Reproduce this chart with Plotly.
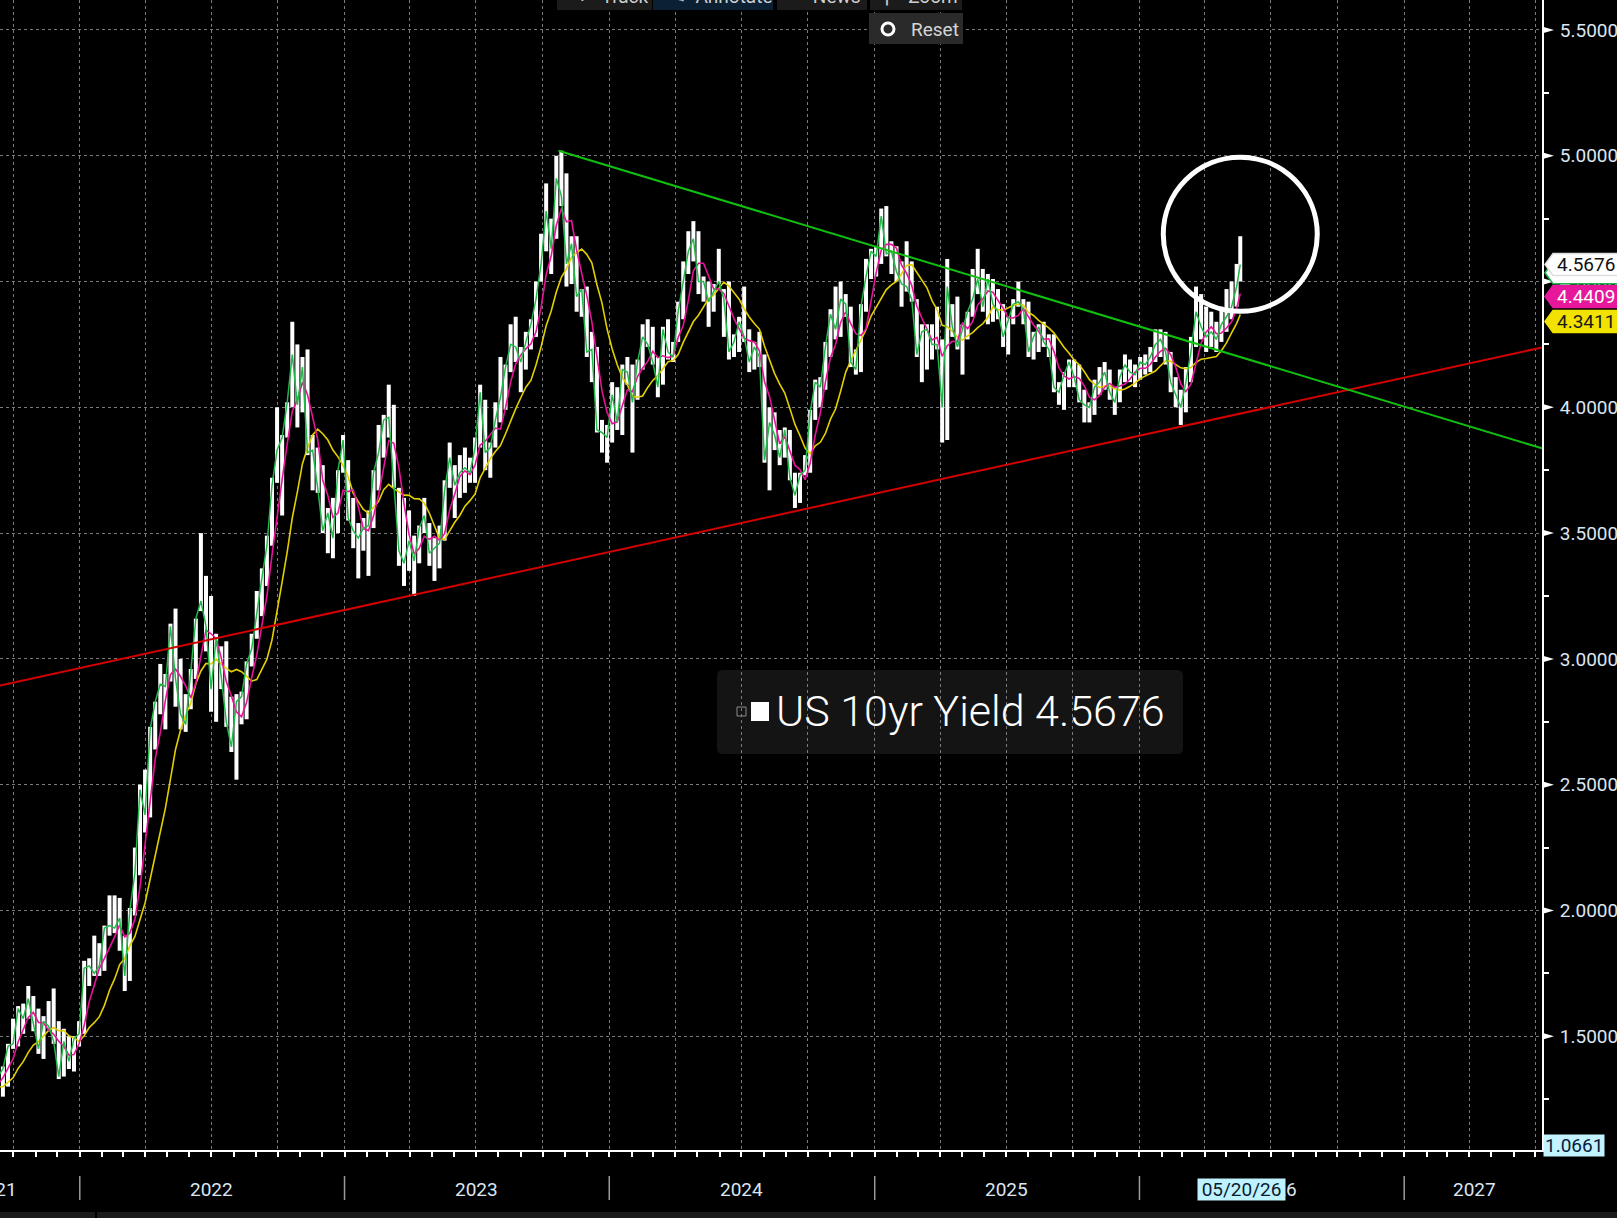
import pandas as pd
import plotly.graph_objects as go

# ---------------- DATA (weekly readings, Friday; last point = 20 May 2026) ----------------
close_2021 = [1.43, 1.36, 1.30, 1.28, 1.24, 1.30, 1.28, 1.26, 1.31, 1.32, 1.34, 1.37, 1.46,
              1.47, 1.61, 1.57, 1.65, 1.55, 1.45, 1.56, 1.54, 1.48, 1.34, 1.48, 1.40, 1.49, 1.51]
high_2021 = [1.49, 1.44, 1.38, 1.31, 1.30, 1.32, 1.37, 1.30, 1.36, 1.35, 1.38, 1.38, 1.47,
             1.57, 1.62, 1.63, 1.70, 1.66, 1.61, 1.58, 1.64, 1.69, 1.56, 1.53, 1.50, 1.50, 1.56]
low_2021 = [1.42, 1.25, 1.28, 1.13, 1.22, 1.13, 1.28, 1.22, 1.25, 1.27, 1.29, 1.26, 1.30,
            1.45, 1.46, 1.51, 1.57, 1.52, 1.43, 1.41, 1.53, 1.47, 1.33, 1.34, 1.37, 1.36, 1.46]

close_2022 = [1.77, 1.78, 1.75, 1.78, 1.93, 1.94, 1.93, 1.97, 1.74, 2.00, 2.15, 2.48,
              2.38, 2.72, 2.83, 2.90, 2.89, 3.13, 2.92, 2.78, 2.74, 2.94, 3.16, 3.23, 3.13,
              2.88, 3.08, 2.93, 2.75, 2.65, 2.83, 2.85, 2.98, 3.04, 3.19, 3.32, 3.45, 3.69, 3.83,
              3.88, 4.02, 4.21, 4.01, 4.16, 3.82, 3.83, 3.68, 3.51, 3.58, 3.48, 3.75, 3.87]
high_2022 = [1.80, 1.81, 1.90, 1.87, 1.94, 2.06, 2.06, 2.05, 1.90, 2.01, 2.25, 2.50,
             2.56, 2.73, 2.83, 2.98, 2.94, 3.14, 3.20, 3.00, 2.86, 2.96, 3.16, 3.50, 3.33,
             3.25, 3.10, 3.05, 3.07, 2.85, 2.86, 2.87, 2.99, 3.10, 3.27, 3.36, 3.49, 3.72, 4.00,
             3.89, 4.02, 4.34, 4.25, 4.20, 4.23, 3.89, 3.84, 3.77, 3.60, 3.64, 3.75, 3.89]
low_2022 = [1.51, 1.70, 1.74, 1.74, 1.76, 1.90, 1.91, 1.84, 1.68, 1.72, 1.98, 2.14,
            2.31, 2.37, 2.64, 2.78, 2.72, 2.91, 2.81, 2.72, 2.71, 2.80, 2.92, 3.19, 3.03,
            2.79, 2.75, 2.88, 2.73, 2.63, 2.52, 2.74, 2.76, 2.97, 3.08, 3.17, 3.29, 3.45, 3.70,
            3.57, 3.88, 4.00, 3.92, 3.98, 3.81, 3.67, 3.66, 3.50, 3.42, 3.40, 3.50, 3.74]

close_2023 = [3.56, 3.51, 3.48, 3.52, 3.53, 3.74, 3.82, 3.95, 3.96, 3.70, 3.43, 3.38, 3.47,
              3.39, 3.52, 3.57, 3.42, 3.44, 3.46, 3.67, 3.80, 3.69, 3.74, 3.76, 3.74, 3.84,
              4.06, 3.82, 3.84, 3.95, 4.04, 4.16, 4.25, 4.24, 4.18, 4.26, 4.33, 4.43, 4.57,
              4.78, 4.63, 4.91, 4.84, 4.57, 4.65, 4.44, 4.47, 4.22, 4.23, 3.91, 3.90, 3.88]
high_2023 = [3.79, 3.64, 3.54, 3.56, 3.59, 3.75, 3.93, 3.97, 4.09, 4.01, 3.68, 3.64, 3.59,
             3.49, 3.53, 3.64, 3.54, 3.48, 3.53, 3.71, 3.86, 3.77, 3.81, 3.84, 3.80, 3.88,
             4.09, 4.03, 3.86, 4.02, 4.20, 4.17, 4.33, 4.36, 4.24, 4.30, 4.35, 4.50, 4.69,
             4.89, 4.75, 5.00, 5.02, 4.93, 4.68, 4.68, 4.47, 4.48, 4.30, 4.24, 3.95, 3.93]
low_2023 = [3.55, 3.44, 3.32, 3.43, 3.33, 3.52, 3.67, 3.80, 3.88, 3.68, 3.37, 3.29, 3.35,
            3.25, 3.38, 3.50, 3.37, 3.31, 3.36, 3.47, 3.68, 3.56, 3.64, 3.66, 3.70, 3.70,
            3.84, 3.75, 3.72, 3.84, 3.94, 3.99, 4.14, 4.18, 4.06, 4.15, 4.23, 4.28, 4.50,
            4.62, 4.53, 4.67, 4.80, 4.48, 4.49, 4.38, 4.36, 4.20, 4.10, 3.90, 3.82, 3.78]

close_2024 = [4.05, 3.94, 4.15, 4.14, 4.02, 4.18, 4.28, 4.25, 4.18, 4.08, 4.31, 4.22, 4.20,
              4.38, 4.50, 4.62, 4.67, 4.50, 4.50, 4.42, 4.46, 4.50, 4.43, 4.22, 4.26, 4.34,
              4.28, 4.18, 4.24, 4.20, 3.79, 3.94, 3.89, 3.80, 3.91, 3.72, 3.65, 3.73, 3.75,
              3.98, 4.10, 4.08, 4.24, 4.37, 4.31, 4.43, 4.41, 4.18, 4.15, 4.40, 4.52, 4.62]
high_2024 = [4.10, 4.08, 4.17, 4.20, 4.17, 4.19, 4.33, 4.35, 4.32, 4.20, 4.32, 4.35, 4.26,
             4.42, 4.58, 4.70, 4.74, 4.70, 4.52, 4.50, 4.49, 4.63, 4.47, 4.50, 4.29, 4.36,
             4.48, 4.31, 4.26, 4.30, 4.21, 4.00, 3.98, 3.91, 3.92, 3.91, 3.74, 3.74, 3.81,
             3.99, 4.11, 4.12, 4.26, 4.39, 4.48, 4.50, 4.45, 4.40, 4.23, 4.41, 4.59, 4.63]
low_2024 = [3.86, 3.91, 3.89, 4.09, 3.82, 4.03, 4.15, 4.24, 4.17, 4.04, 4.09, 4.19, 4.18,
            4.26, 4.35, 4.53, 4.58, 4.45, 4.42, 4.32, 4.38, 4.49, 4.28, 4.19, 4.20, 4.22,
            4.26, 4.14, 4.15, 4.16, 3.78, 3.67, 3.83, 3.77, 3.80, 3.71, 3.60, 3.62, 3.73,
            3.74, 3.95, 4.00, 4.07, 4.20, 4.27, 4.28, 4.36, 4.16, 4.13, 4.14, 4.38, 4.51]

close_2025 = [4.60, 4.76, 4.61, 4.62, 4.54, 4.49, 4.48, 4.43, 4.21, 4.30, 4.31, 4.25, 4.25,
              4.00, 4.48, 4.32, 4.24, 4.31, 4.38, 4.43, 4.51, 4.40, 4.51, 4.41, 4.38, 4.28,
              4.35, 4.41, 4.42, 4.39, 4.22, 4.28, 4.32, 4.26, 4.23, 4.08, 4.06, 4.13, 4.18,
              4.12, 4.03, 4.01, 4.00, 4.08, 4.10, 4.14, 4.06, 4.02, 4.12, 4.17, 4.14, 4.13]
high_2025 = [4.64, 4.79, 4.80, 4.66, 4.64, 4.58, 4.66, 4.58, 4.43, 4.33, 4.33, 4.33, 4.40,
             4.27, 4.59, 4.41, 4.44, 4.33, 4.38, 4.55, 4.63, 4.55, 4.53, 4.51, 4.47, 4.41,
             4.36, 4.43, 4.50, 4.43, 4.42, 4.30, 4.33, 4.34, 4.29, 4.29, 4.10, 4.14, 4.19,
             4.19, 4.17, 4.07, 4.02, 4.11, 4.16, 4.18, 4.15, 4.08, 4.15, 4.21, 4.19, 4.17]
low_2025 = [4.52, 4.57, 4.60, 4.53, 4.50, 4.40, 4.46, 4.42, 4.20, 4.10, 4.15, 4.19, 4.23,
            3.86, 3.87, 4.28, 4.23, 4.13, 4.27, 4.36, 4.45, 4.38, 4.33, 4.34, 4.35, 4.24,
            4.21, 4.33, 4.40, 4.33, 4.20, 4.19, 4.22, 4.24, 4.20, 4.06, 4.01, 3.99, 4.08,
            4.08, 4.02, 3.94, 3.94, 3.97, 4.05, 4.07, 4.03, 3.97, 4.02, 4.10, 4.10, 4.08]

close_2026 = [4.18, 4.17, 4.20, 4.25, 4.27, 4.22, 4.10, 4.05, 4.00, 4.10, 4.22, 4.38, 4.32,
              4.28, 4.30, 4.27, 4.33, 4.36, 4.40, 4.48, 4.5676]
high_2026 = [4.20, 4.21, 4.24, 4.31, 4.31, 4.30, 4.22, 4.12, 4.07, 4.16, 4.28, 4.48, 4.45,
             4.40, 4.38, 4.34, 4.40, 4.47, 4.50, 4.57, 4.68]
low_2026 = [4.11, 4.13, 4.14, 4.18, 4.20, 4.17, 4.06, 4.00, 3.93, 3.98, 4.10, 4.24, 4.27,
            4.22, 4.24, 4.22, 4.26, 4.30, 4.35, 4.40, 4.50]

week_dates = list(pd.date_range("2021-07-02", "2026-05-15", freq="W-FRI")) + [pd.Timestamp("2026-05-20")]
close = close_2021 + close_2022 + close_2023 + close_2024 + close_2025 + close_2026
high = high_2021 + high_2022 + high_2023 + high_2024 + high_2025 + high_2026
low = low_2021 + low_2022 + low_2023 + low_2024 + low_2025 + low_2026
n = min(len(week_dates), len(close), len(high), len(low))
week_dates, close, high, low = week_dates[:n], close[:n], high[:n], low[:n]

# moving-average studies of the close (about 20 and 50 trading days)
short_window_weeks = 4
long_window_weeks = 10
close_series = pd.Series(close, index=week_dates)
ma_short = close_series.rolling(short_window_weeks).mean()
ma_long = close_series.rolling(long_window_weeks).mean()

# trend lines drawn on the chart
green_trend_dates = ["2023-10-23", "2027-07-10"]
green_trend_values = [5.02, 3.837]
red_trend_dates = ["2021-09-13", "2027-07-10"]
red_trend_values = [2.894, 4.238]

# last-value tags on the right axis
tag_price = 4.5676
tag_fast = 4.535
tag_short = 4.4409
tag_long = 4.3411
axis_min_label = 1.0661
last_date_label = "05/20/26"

ytick_values = [1.5, 2.0, 2.5, 3.0, 3.5, 4.0, 4.5, 5.0, 5.5]
year_labels = ["2021", "2022", "2023", "2024", "2025", "2026", "2027"]
year_label_dates = ["2021-10-09", "2022-07-02", "2023-07-02", "2024-07-01", "2025-07-02", "2026-07-07", "2027-04-08"]
year_starts = ["2022-01-01", "2023-01-01", "2024-01-01", "2025-01-01", "2026-01-01", "2027-01-01"]

X_RANGE = ["2021-09-13", "2027-07-10"]
Y_RANGE = [1.048, 5.619]

# ---------------- FIGURE ----------------
W, H = 1617, 1218
PW, PH = 1542, 1150          # plot area size in pixels


def px(X):
    return X / PW


def py(Y):
    return (PH - Y) / PH


FONT = "Roboto"
fig = go.Figure()

# daily-range style white bars
bx, by = [], []
for d, lo, hi in zip(week_dates, low, high):
    bx += [d, d, None]
    by += [lo, hi, None]
fig.add_trace(go.Scatter(x=bx, y=by, mode="lines", line=dict(color="white", width=4),
                         hoverinfo="skip", showlegend=False))
fig.add_trace(go.Scatter(x=week_dates, y=ma_long, mode="lines",
                         line=dict(color="#e3cf00", width=1.6), showlegend=False))
fig.add_trace(go.Scatter(x=week_dates, y=ma_short, mode="lines",
                         line=dict(color="#e8139a", width=1.6), showlegend=False))
fig.add_trace(go.Scatter(x=week_dates, y=close, mode="lines",
                         line=dict(color="#22b94a", width=1.5), showlegend=False))
fig.add_trace(go.Scatter(x=red_trend_dates, y=red_trend_values, mode="lines",
                         line=dict(color="#d40000", width=2), showlegend=False))
fig.add_trace(go.Scatter(x=green_trend_dates, y=green_trend_values, mode="lines",
                         line=dict(color="#10c010", width=2), showlegend=False))

shapes = []
annotations = []

# legend box
lx0, lx1, ly0, ly1, r = 717, 1183, 670, 754, 6
rx, ry = r / PW, r / PH
path = (f"M {px(lx0)+rx},{py(ly0)} L {px(lx1)-rx},{py(ly0)} Q {px(lx1)},{py(ly0)} {px(lx1)},{py(ly0)-ry} "
        f"L {px(lx1)},{py(ly1)+ry} Q {px(lx1)},{py(ly1)} {px(lx1)-rx},{py(ly1)} "
        f"L {px(lx0)+rx},{py(ly1)} Q {px(lx0)},{py(ly1)} {px(lx0)},{py(ly1)+ry} "
        f"L {px(lx0)},{py(ly0)-ry} Q {px(lx0)},{py(ly0)} {px(lx0)+rx},{py(ly0)} Z")
shapes.append(dict(type="path", path=path, xref="paper", yref="paper", layer="below",
                   fillcolor="#141414", line=dict(width=0)))
shapes.append(dict(type="rect", xref="paper", yref="paper", x0=px(751), x1=px(769), y0=py(702), y1=py(721),
                   fillcolor="white", line=dict(width=0), layer="above"))
shapes.append(dict(type="rect", xref="paper", yref="paper", x0=px(737), x1=px(746), y0=py(707), y1=py(716),
                   fillcolor="rgba(0,0,0,0)", line=dict(width=1, color="#8a8a8a"), layer="above"))
annotations.append(dict(text="US 10yr Yield " + f"{close[-1]:.4f}", xref="paper", yref="paper",
                        x=px(774), y=py(711), xanchor="left", yanchor="middle", showarrow=False,
                        font=dict(family=FONT, size=43, color="white", weight=300)))

# toolbar (partially cut at the top) and reset button
for (x0, x1, col, label, tx) in [(557, 652, "#1b1b1b", "+   Track", 575),
                                  (653, 773, "#0c2034", "✎  Annotate", 668),
                                  (777, 867, "#1b1b1b", "≡   News", 786),
                                  (870, 962, "#1b1b1b", "⚲   Zoom", 878)]:
    shapes.append(dict(type="rect", xref="paper", yref="paper", x0=px(x0), x1=px(x1), y0=py(10), y1=py(-20),
                       fillcolor=col, line=dict(width=0), layer="above"))
    annotations.append(dict(text=label, xref="paper", yref="paper", x=px(tx), y=py(-4), xanchor="left",
                            yanchor="middle", showarrow=False, font=dict(family=FONT, size=19, color="#cfcfcf")))
shapes.append(dict(type="rect", xref="paper", yref="paper", x0=px(869), x1=px(963), y0=py(44), y1=py(13),
                   fillcolor="#2a2a2a", line=dict(width=0), layer="above"))
shapes.append(dict(type="circle", xref="paper", yref="paper", x0=px(882), x1=px(894), y0=py(35), y1=py(23),
                   fillcolor="#2a2a2a", line=dict(width=3, color="white"), layer="above"))
annotations.append(dict(text="Reset", xref="paper", yref="paper", x=px(909), y=py(29), xanchor="left",
                        yanchor="middle", showarrow=False, font=dict(family=FONT, size=19, color="#d6d6d6")))

# triangles at the major y ticks
th = 3.5 / 251.6
for v in ytick_values:
    shapes.append(dict(type="path", xref="paper", yref="y",
                       path=f"M {px(1542)},{v+th} L {px(1554)},{v} L {px(1542)},{v-th} Z",
                       fillcolor="white", line=dict(width=0), layer="above"))

# last-value tags
hh = 11 / 251.6


def tag(v, fill, border):
    shapes.append(dict(type="path", xref="paper", yref="y",
                       path=(f"M {px(1545)},{v} L {px(1553)},{v+hh} L {px(1625)},{v+hh} "
                             f"L {px(1625)},{v-hh} L {px(1553)},{v-hh} Z"),
                       fillcolor=fill, line=dict(width=1.5, color=border), layer="above"))


tag(tag_long, "#f2e200", "#f2e200")
tag(tag_short, "#e6179b", "#e6179b")
tag(tag_fast, "white", "#1fb34a")
tag(tag_price, "white", "#dddddd")
for v, col in [(tag_long, "#1a1a1a"), (tag_short, "white"), (tag_price, "#111111")]:
    annotations.append(dict(text=f"{v:.4f}", xref="paper", yref="y", x=px(1555), y=v, xanchor="left",
                            yanchor="middle", showarrow=False, font=dict(family=FONT, size=19, color=col)))
annotations.append(dict(text=f"{axis_min_label:.4f}", xref="paper", yref="y", x=px(1543), y=axis_min_label,
                        xanchor="left", yanchor="middle", showarrow=False, bgcolor="#c2f3ff", borderpad=1,
                        height=19, font=dict(family=FONT, size=19, color="#06203a")))

# year labels and separators under the time axis
for lab, d in zip(year_labels, year_label_dates):
    annotations.append(dict(text=lab, xref="x", yref="paper", x=d, y=py(1189),
                            xanchor="right" if lab == "2021" else "center", yanchor="middle",
                            showarrow=False, font=dict(family=FONT, size=19, color="#dce6f2")))
for d in year_starts:
    shapes.append(dict(type="line", xref="x", yref="paper", x0=d, x1=d, y0=py(1176), y1=py(1200),
                       line=dict(color="#9a9a9a", width=1.5)))
annotations.append(dict(text=last_date_label, xref="x", yref="paper", x=week_dates[-1], y=py(1189.5),
                        xanchor="center", yanchor="middle", xshift=1.5, showarrow=False,
                        bgcolor="#bff2ff", borderpad=1, width=85, height=19,
                        font=dict(family=FONT, size=19, color="#0a1a30")))

# bottom strip
shapes.append(dict(type="rect", xref="paper", yref="paper", x0=0, x1=px(W + 5), y0=py(1212), y1=py(1230),
                   fillcolor="#1b1b1b", line=dict(width=0)))
shapes.append(dict(type="line", xref="paper", yref="paper", x0=px(96), x1=px(96), y0=py(1212), y1=py(1230),
                   line=dict(color="#000000", width=2)))

# highlight circle around the latest move
shapes.append(dict(type="circle", xref="x", yref="y", xsizemode="pixel", ysizemode="pixel",
                   xanchor=week_dates[-1], yanchor=4.688, x0=-77, x1=77, y0=-77, y1=77,
                   line=dict(color="white", width=5), layer="above"))

grid = dict(showgrid=True, gridcolor="#7a7a7a", gridwidth=1, griddash="3px,3px")

fig.update_layout(
    width=W, height=H,
    margin=dict(l=0, r=W - PW, t=0, b=H - PH),
    paper_bgcolor="black", plot_bgcolor="rgba(0,0,0,0)",
    showlegend=False,
    shapes=shapes, annotations=annotations,
    xaxis=dict(type="date", range=X_RANGE, dtick="M3", tick0="2021-10-01", showticklabels=False,
               ticks="outside", ticklen=5, tickcolor="white", tickwidth=1.5,
               minor=dict(dtick="M1", ticks="outside", ticklen=5, tickcolor="white", tickwidth=1.5, showgrid=False),
               showline=True, linecolor="white", linewidth=2, zeroline=False, **grid),
    yaxis=dict(side="right", range=Y_RANGE, tick0=0, dtick=0.5, tickformat=".4f",
               ticks="outside", ticklen=12, tickcolor="rgba(0,0,0,0)",
               minor=dict(dtick=0.25, ticks="outside", ticklen=5, tickcolor="white", tickwidth=1.5, showgrid=False),
               tickfont=dict(family=FONT, size=19, color="#dce6f2"),
               showline=True, linecolor="white", linewidth=2, zeroline=False, **grid),
)

fig.write_html("out.html",
               config={"displayModeBar": False},
               post_script="document.body.style.margin='0';document.body.style.overflow='hidden';"
                           "document.body.style.background='black';")
